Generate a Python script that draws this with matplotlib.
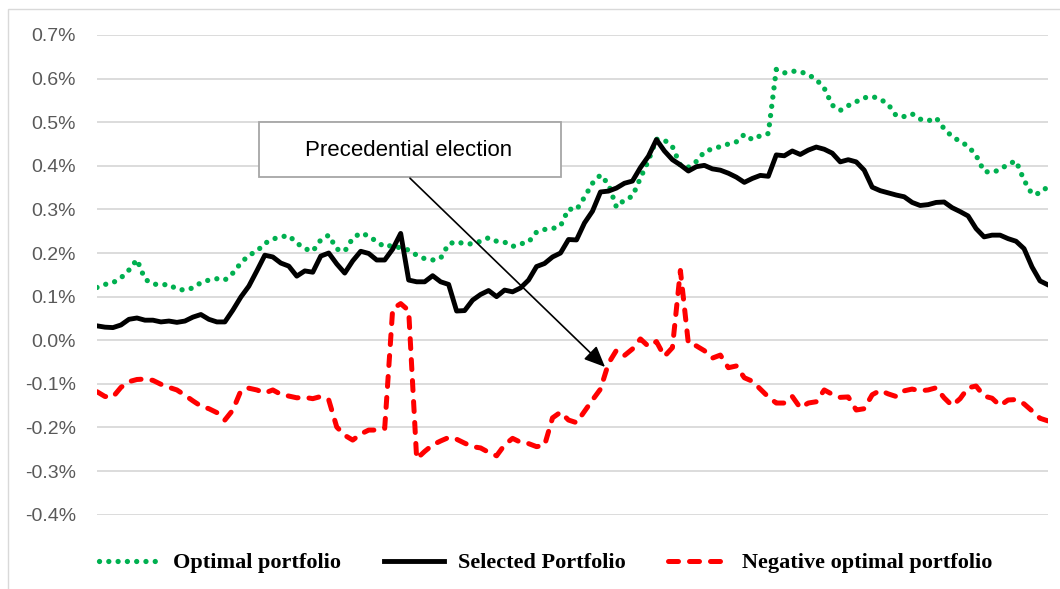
import matplotlib
matplotlib.use("Agg")
import matplotlib.pyplot as plt
from matplotlib.patches import Rectangle
from matplotlib.ticker import FuncFormatter, MultipleLocator
import numpy as np

# values in percent, one per trading day
optimal = [0.121, 0.128, 0.132, 0.143, 0.161, 0.185, 0.140, 0.129, 0.127, 0.128,
           0.117, 0.115, 0.120, 0.132, 0.138, 0.141, 0.138, 0.154, 0.177, 0.195,
           0.204, 0.222, 0.232, 0.237, 0.240, 0.223, 0.210, 0.204, 0.230, 0.241,
           0.209, 0.204, 0.234, 0.246, 0.239, 0.226, 0.214, 0.218, 0.211, 0.207,
           0.195, 0.187, 0.184, 0.188, 0.221, 0.226, 0.221, 0.221, 0.227, 0.235,
           0.227, 0.225, 0.215, 0.221, 0.225, 0.248, 0.254, 0.256, 0.262, 0.301,
           0.299, 0.328, 0.360, 0.379, 0.358, 0.305, 0.322, 0.330, 0.372, 0.412,
           0.461, 0.459, 0.444, 0.401, 0.397, 0.410, 0.432, 0.439, 0.444, 0.450,
           0.455, 0.472, 0.460, 0.469, 0.474, 0.621, 0.613, 0.617, 0.616, 0.609,
           0.598, 0.578, 0.539, 0.527, 0.538, 0.547, 0.556, 0.559, 0.553, 0.541,
           0.515, 0.513, 0.519, 0.507, 0.503, 0.510, 0.485, 0.467, 0.456, 0.445,
           0.424, 0.387, 0.385, 0.391, 0.404, 0.411, 0.367, 0.335, 0.337, 0.353]

selected = [0.033, 0.030, 0.029, 0.035, 0.048, 0.051, 0.046, 0.046, 0.042, 0.044,
            0.041, 0.044, 0.053, 0.059, 0.048, 0.042, 0.042, 0.069, 0.099, 0.124,
            0.159, 0.195, 0.191, 0.177, 0.170, 0.147, 0.159, 0.156, 0.193, 0.200,
            0.175, 0.154, 0.182, 0.204, 0.199, 0.184, 0.184, 0.209, 0.245, 0.138,
            0.134, 0.134, 0.148, 0.134, 0.128, 0.067, 0.068, 0.092, 0.105, 0.114,
            0.100, 0.115, 0.111, 0.120, 0.138, 0.169, 0.176, 0.191, 0.200, 0.231,
            0.230, 0.269, 0.296, 0.340, 0.342, 0.349, 0.360, 0.365, 0.396, 0.422,
            0.460, 0.434, 0.414, 0.402, 0.388, 0.398, 0.401, 0.393, 0.390, 0.383,
            0.374, 0.362, 0.371, 0.378, 0.376, 0.425, 0.423, 0.434, 0.426, 0.436,
            0.443, 0.438, 0.429, 0.409, 0.414, 0.409, 0.390, 0.351, 0.343, 0.338,
            0.333, 0.329, 0.316, 0.309, 0.311, 0.316, 0.317, 0.304, 0.295, 0.285,
            0.256, 0.237, 0.241, 0.241, 0.233, 0.227, 0.210, 0.168, 0.136, 0.127]

negative = [-0.118, -0.129, -0.130, -0.108, -0.095, -0.090, -0.089, -0.092, -0.101, -0.108,
            -0.114, -0.126, -0.139, -0.151, -0.157, -0.166, -0.183, -0.160, -0.116, -0.110,
            -0.114, -0.121, -0.114, -0.124, -0.128, -0.132, -0.131, -0.134, -0.129, -0.137,
            -0.199, -0.218, -0.229, -0.215, -0.206, -0.206, -0.202, 0.072, 0.084, 0.068,
            -0.272, -0.255, -0.240, -0.231, -0.223, -0.227, -0.236, -0.244, -0.247, -0.257,
            -0.265, -0.240, -0.225, -0.234, -0.237, -0.244, -0.241, -0.178, -0.165, -0.183,
            -0.189, -0.163, -0.137, -0.112, -0.053, -0.023, -0.035, -0.020, 0.003, -0.014,
            -0.003, -0.037, -0.017, 0.160, -0.008, -0.013, -0.024, -0.041, -0.034, -0.063,
            -0.059, -0.086, -0.094, -0.112, -0.130, -0.144, -0.144, -0.129, -0.155, -0.144,
            -0.141, -0.114, -0.124, -0.131, -0.130, -0.160, -0.157, -0.125, -0.115, -0.123,
            -0.129, -0.116, -0.112, -0.116, -0.114, -0.109, -0.132, -0.150, -0.134, -0.109,
            -0.105, -0.128, -0.133, -0.150, -0.137, -0.136, -0.146, -0.162, -0.179, -0.185]

labels = ["Optimal portfolio", "Selected Portfolio", "Negative optimal portfolio"]
note = "Precedential election"

days = np.arange(len(optimal))

fig = plt.figure(figsize=(10.6, 5.89), dpi=100)
ax = fig.add_axes([0.0915, 0.1262, 0.8972, 0.8144])

# light frame around the whole chart
fig.patches.append(Rectangle((8 / 1060, -0.1), 1.2, 1.1 - 9 / 589,
                             transform=fig.transFigure, fill=False,
                             edgecolor="#d9d9d9", linewidth=1))

ax.plot(days, optimal, color="#00b050", linewidth=3.8,
        linestyle=(0, (0.01, 1.75)), dash_capstyle="round", label=labels[0], zorder=3)
ax.plot(days, selected, color="black", linewidth=3.5, solid_joinstyle="round",
        label=labels[1], zorder=4)
ax.plot(days, negative, color="#ff0000", linewidth=3.6,
        linestyle=(0, (2.0, 2.2)), dash_capstyle="round", label=labels[2], zorder=3)

ax.set_xlim(0, len(optimal) - 1)
ax.set_ylim(-0.4, 0.7)
ax.yaxis.set_major_locator(MultipleLocator(0.1))
ax.yaxis.set_major_formatter(FuncFormatter(lambda v, p: f"{v:.1f}%"))
ax.grid(axis="y", color="#d9d9d9", linewidth=1.3)
ax.set_axisbelow(True)
ax.set_xticks([])
ax.tick_params(axis="y", length=0, pad=15, labelsize=14, labelcolor="#595959")
for lab in ax.get_yticklabels():
    lab.set_family("Liberation Sans")
for s in ax.spines.values():
    s.set_visible(False)

# annotation box and arrow
ax.add_patch(Rectangle((0.1707, 0.7046), 0.3169, 0.1134, transform=ax.transAxes,
                       facecolor="white", edgecolor="#a6a6a6", linewidth=1.3, zorder=6))
ax.text(0.328, 0.760, note, transform=ax.transAxes, ha="center", va="center",
        fontsize=16, family="Liberation Sans", color="black", zorder=7)
ax.annotate("", xy=(0.5342, 0.3079), xytext=(0.3291, 0.7015),
            xycoords="axes fraction", textcoords="axes fraction",
            arrowprops=dict(arrowstyle="-|>,head_length=0.8,head_width=0.35",
                            mutation_scale=16, color="black", lw=1.2,
                            shrinkA=0, shrinkB=0), zorder=7)

fig.legend(loc="center", bbox_to_anchor=(0.515, 0.044), ncol=3, frameon=False,
           prop={"family": "Liberation Serif", "weight": "bold", "size": 16},
           handlelength=2.7, handletextpad=0.65, columnspacing=1.9)

fig.savefig("out.png", dpi=100)
